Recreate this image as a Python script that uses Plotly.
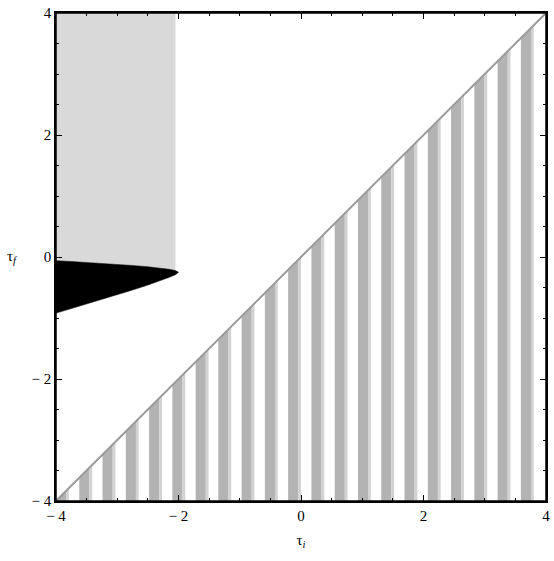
import plotly.graph_objects as go

# --- data ---
tick_vals = [-4, -2, 0, 2, 4]
tick_text = ["\u2212 4", "\u2212 2", "0", "2", "4"]

# black lens-shaped region: x positions and upper / lower boundaries
lens_x = [-2.0, -2.05, -2.15, -2.3, -2.5, -2.75, -3.0, -3.25, -3.5, -3.75, -4.0]
lens_upper = [-0.25, -0.223, -0.202, -0.182, -0.16, -0.139, -0.12, -0.103, -0.088, -0.074, -0.06]
lens_lower = [-0.25, -0.289, -0.334, -0.390, -0.46, -0.541, -0.62, -0.697, -0.772, -0.846, -0.92]

# light grey region (left), right edge and top
grey_right = -2.05
grey_top = 4.0

# stripes below the diagonal: left edges
stripe_left = [-4.0, -3.62, -3.24, -2.86, -2.48, -2.10, -1.72, -1.35, -0.97, -0.59,
               -0.21, 0.17, 0.55, 0.93, 1.31, 1.69, 2.07, 2.45, 2.83, 3.21, 3.59]

diag = [-4, 4]
floor_y = -4

STRIPE_W = 0.165
EDGE_W = 0.045

fig = go.Figure()

# light grey area above the lens
gx = [-4, grey_right] + [x for x in lens_x if x <= grey_right]
gy = [grey_top, grey_top] + [y for x, y in zip(lens_x, lens_upper) if x <= grey_right]
fig.add_trace(go.Scatter(x=gx, y=gy, fill="toself", mode="lines",
                         line=dict(width=0), fillcolor="#d9d9d9", hoverinfo="skip"))

# black lens
bx = lens_x + lens_x[::-1]
by = lens_upper + lens_lower[::-1]
fig.add_trace(go.Scatter(x=bx, y=by, fill="toself", mode="lines",
                         line=dict(width=0.5, color="black"), fillcolor="black", hoverinfo="skip"))


def stripe_poly(x0, x1):
    return [x0, x1, x1, x0, x0], [floor_y, floor_y, x1, x0, floor_y]


for x0 in stripe_left:
    xs, ys = stripe_poly(x0, x0 + STRIPE_W)
    fig.add_trace(go.Scatter(x=xs, y=ys, fill="toself", mode="lines",
                             line=dict(width=0), fillcolor="#b3b3b3", hoverinfo="skip"))
    xs, ys = stripe_poly(x0 + STRIPE_W, x0 + STRIPE_W + EDGE_W)
    fig.add_trace(go.Scatter(x=xs, y=ys, fill="toself", mode="lines",
                             line=dict(width=0), fillcolor="#d2d2d2", hoverinfo="skip"))

# diagonal boundary
fig.add_trace(go.Scatter(x=diag, y=diag, mode="lines",
                         line=dict(color="#9a9a9a", width=2), hoverinfo="skip"))

axis_common = dict(
    range=[-4, 4], showgrid=False, zeroline=False,
    showline=True, linecolor="black", linewidth=1.5, mirror="allticks",
    ticks="inside", ticklen=6, tickwidth=1, tickcolor="black",
    tickvals=tick_vals, ticktext=tick_text,
    minor=dict(ticks="inside", ticklen=3, dtick=0.5, tick0=0, tickcolor="black", showgrid=False),
    tickfont=dict(family="Liberation Serif, DejaVu Serif", size=15, color="black"),
)

fig.update_xaxes(**axis_common,
                 title=dict(text="\u03c4<sub><i>i</i></sub>", standoff=12,
                            font=dict(family="Liberation Serif", size=15, color="black")))
fig.update_yaxes(**axis_common)
fig.add_annotation(x=0, xref="paper", xanchor="center", xshift=-44, y=0.5, yref="paper",
                   text="\u03c4<sub><i>f</i></sub>", showarrow=False,
                   font=dict(family="Liberation Serif", size=15, color="black"))

# frame
fig.add_shape(type="rect", xref="paper", yref="paper", x0=0, y0=0, x1=1, y1=1,
              line=dict(color="black", width=1.5), layer="above")

fig.update_layout(
    width=554, height=561,
    margin=dict(l=56, r=8, t=13, b=60, autoexpand=False),
    paper_bgcolor="white", plot_bgcolor="white",
    showlegend=False,
)

fig.write_html(
    "out.html",
    config={"displayModeBar": False},
    post_script="document.body.style.margin='0';document.body.style.overflow='hidden';",
)
